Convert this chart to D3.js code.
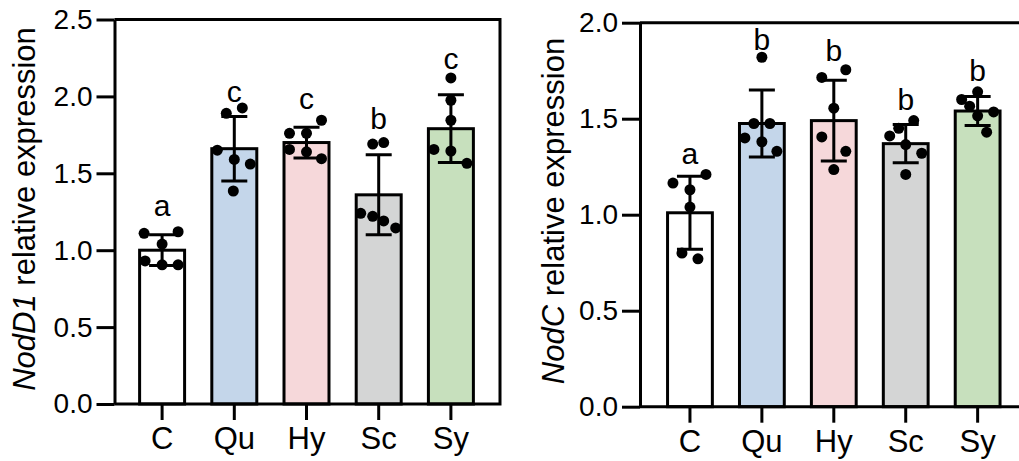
<!DOCTYPE html>
<html>
<head>
<meta charset="utf-8">
<script src="https://cdn.jsdelivr.net/npm/d3@7"></script>
<style>
  body { margin: 0; background: #fff; }
  svg { display: block; font-family: "Liberation Sans", Arial, sans-serif; }
</style>
</head>
<body>
<svg id="chart" width="1019" height="461"></svg>
<script>
// groups + fill colours shared by both panels
const groups = ['C', 'Qu', 'Hy', 'Sc', 'Sy'];
const barColors = ['#ffffff', '#c4d6ea', '#f6d8da', '#d4d5d5', '#c7e0bd'];

// NodD1 panel
const nodD1Ticks = [0, 0.5, 1.0, 1.5, 2.0, 2.5];
const nodD1Means = [1.00, 1.66, 1.70, 1.36, 1.79];
const nodD1Sd = [0.10, 0.21, 0.10, 0.26, 0.22];
const nodD1Points = [
    [1.11, 1.12, 1.04, 0.93, 0.905, 0.905],
    [1.89, 1.925, 1.65, 1.59, 1.56, 1.385],
    [1.76, 1.76, 1.845, 1.655, 1.64, 1.595],
    [1.69, 1.70, 1.24, 1.22, 1.19, 1.145],
    [2.12, 1.975, 1.845, 1.655, 1.645, 1.565]
];
const nodD1Letters = ['a', 'c', 'c', 'b', 'c'];
const nodD1LetterY = [1.22, 1.965, 1.92, 1.79, 2.18];

// NodC panel
const nodCTicks = [0, 0.5, 1.0, 1.5, 2.0];
const nodCMeans = [1.01, 1.475, 1.49, 1.37, 1.54];
const nodCSd = [0.19, 0.175, 0.21, 0.10, 0.075];
const nodCPoints = [
    [1.165, 1.21, 1.13, 1.04, 0.80, 0.77],
    [1.82, 1.475, 1.475, 1.40, 1.38, 1.33],
    [1.715, 1.755, 1.555, 1.405, 1.33, 1.235],
    [1.49, 1.45, 1.41, 1.365, 1.32, 1.21],
    [1.64, 1.60, 1.565, 1.535, 1.515, 1.43]
];
const nodCLetters = ['a', 'b', 'b', 'b', 'b'];
const nodCLetterY = [1.265, 1.86, 1.80, 1.545, 1.695];

// horizontal scatter of the dots inside each bar (px from bar centre)
const nodD1Jitter = [
    [-18, 16, 0, -17, 0, 16],
    [-8, 8, -17, 0, 16, -1],
    [-17, 0, 15, -17, 0, 15],
    [-6, 5, -18, -6, 5, 17],
    [0, 0, 0, -17, 0, 16]
];
const nodCJitter = [
    [-17, 16, 0, 0, -8, 8],
    [0, -8, 8, -17, 0, 15],
    [-12, 12, 0, -12, 12, 0],
    [8, -7, -16, 0, 16, 0],
    [0, -16, -8, 16, 0, 9]
];

const svg = d3.select('#chart');

function drawPanel(p) {
    const g = svg.append('g');

    const xScale = d3.scaleBand()
        .domain(groups)
        .range([p.bandStart, p.bandEnd])
        .paddingInner(0.377)
        .paddingOuter(0.1885);

    const yScale = d3.scaleLinear()
        .domain([0, d3.max(p.ticks)])
        .range([p.bottom, p.top]);

    const bw = xScale.bandwidth();
    const cx = d => xScale(d) + bw / 2;

    // bars
    g.selectAll('rect.bar')
        .data(groups)
        .join('rect')
        .attr('class', 'bar')
        .attr('x', d => xScale(d))
        .attr('width', bw)
        .attr('y', (d, i) => yScale(p.means[i]))
        .attr('height', (d, i) => yScale(0) - yScale(p.means[i]))
        .style('fill', (d, i) => barColors[i])
        .style('stroke', '#000')
        .style('stroke-width', 3);

    // error bars
    groups.forEach((grp, i) => {
        const hi = yScale(p.means[i] + p.sd[i]);
        const lo = yScale(p.means[i] - p.sd[i]);
        const x0 = cx(grp);
        g.append('path')
            .attr('d', `M${x0},${lo}V${hi}M${x0 - 13},${hi}H${x0 + 13}M${x0 - 13},${lo}H${x0 + 13}`)
            .style('fill', 'none')
            .style('stroke', '#000')
            .style('stroke-width', 3);
    });

    // dots
    groups.forEach((grp, i) => {
        g.selectAll(null)
            .data(p.points[i])
            .join('circle')
            .attr('cx', (d, j) => cx(grp) + p.jitter[i][j])
            .attr('cy', d => yScale(d))
            .attr('r', 5.5)
            .style('fill', '#000');
    });

    // significance letters
    g.selectAll('text.sig')
        .data(groups)
        .join('text')
        .attr('class', 'sig')
        .attr('x', d => cx(d))
        .attr('y', (d, i) => yScale(p.letterY[i]))
        .attr('text-anchor', 'middle')
        .style('font-size', '30px')
        .text((d, i) => p.letters[i]);

    // frame (top, right, bottom)
    g.append('path')
        .attr('d', `M${p.axisX},${p.top}H${p.right}V${p.bottom}H${p.axisX}`)
        .style('fill', 'none')
        .style('stroke', '#000')
        .style('stroke-width', 3);

    const yAxis = g.append('g')
        .attr('transform', `translate(${p.axisX},0)`)
        .call(d3.axisLeft(yScale).tickValues(p.ticks).tickFormat(d3.format('.1f'))
            .tickSize(18).tickSizeOuter(0).tickPadding(4));
    yAxis.selectAll('path, line').style('stroke', '#000').style('stroke-width', 3);
    yAxis.selectAll('text').style('font-size', '28px').style('fill', '#000')
        .style('font-family', '"Liberation Sans", Arial, sans-serif');

    const xAxis = g.append('g')
        .attr('transform', `translate(0,${p.bottom})`)
        .call(d3.axisBottom(xScale).tickSize(16).tickSizeOuter(0).tickPadding(7));
    xAxis.select('.domain').remove();
    xAxis.selectAll('line').style('stroke', '#000').style('stroke-width', 3);
    xAxis.selectAll('text').style('font-size', '31px').style('fill', '#000')
        .style('font-family', '"Liberation Sans", Arial, sans-serif');

    // y title
    const title = g.append('text')
        .attr('transform', `translate(${p.titleX},${p.titleY}) rotate(-90)`)
        .attr('text-anchor', 'middle')
        .style('font-size', '31px');
    title.append('tspan').style('font-style', 'italic').text(p.gene);
    title.append('tspan').text(' relative expression');
}

drawPanel({
    gene: 'NodD1', ticks: nodD1Ticks, means: nodD1Means, sd: nodD1Sd,
    points: nodD1Points, jitter: nodD1Jitter, letters: nodD1Letters, letterY: nodD1LetterY,
    axisX: 114.5, right: 500, top: 19.5, bottom: 404,
    bandStart: 126, bandEnd: 487, titleX: 35, titleY: 209
});

drawPanel({
    gene: 'NodC', ticks: nodCTicks, means: nodCMeans, sd: nodCSd,
    points: nodCPoints, jitter: nodCJitter, letters: nodCLetters, letterY: nodCLetterY,
    axisX: 640, right: 1028, top: 22.7, bottom: 406.7,
    bandStart: 654, bandEnd: 1013.6, titleX: 564, titleY: 211
});
</script>
</body>
</html>
